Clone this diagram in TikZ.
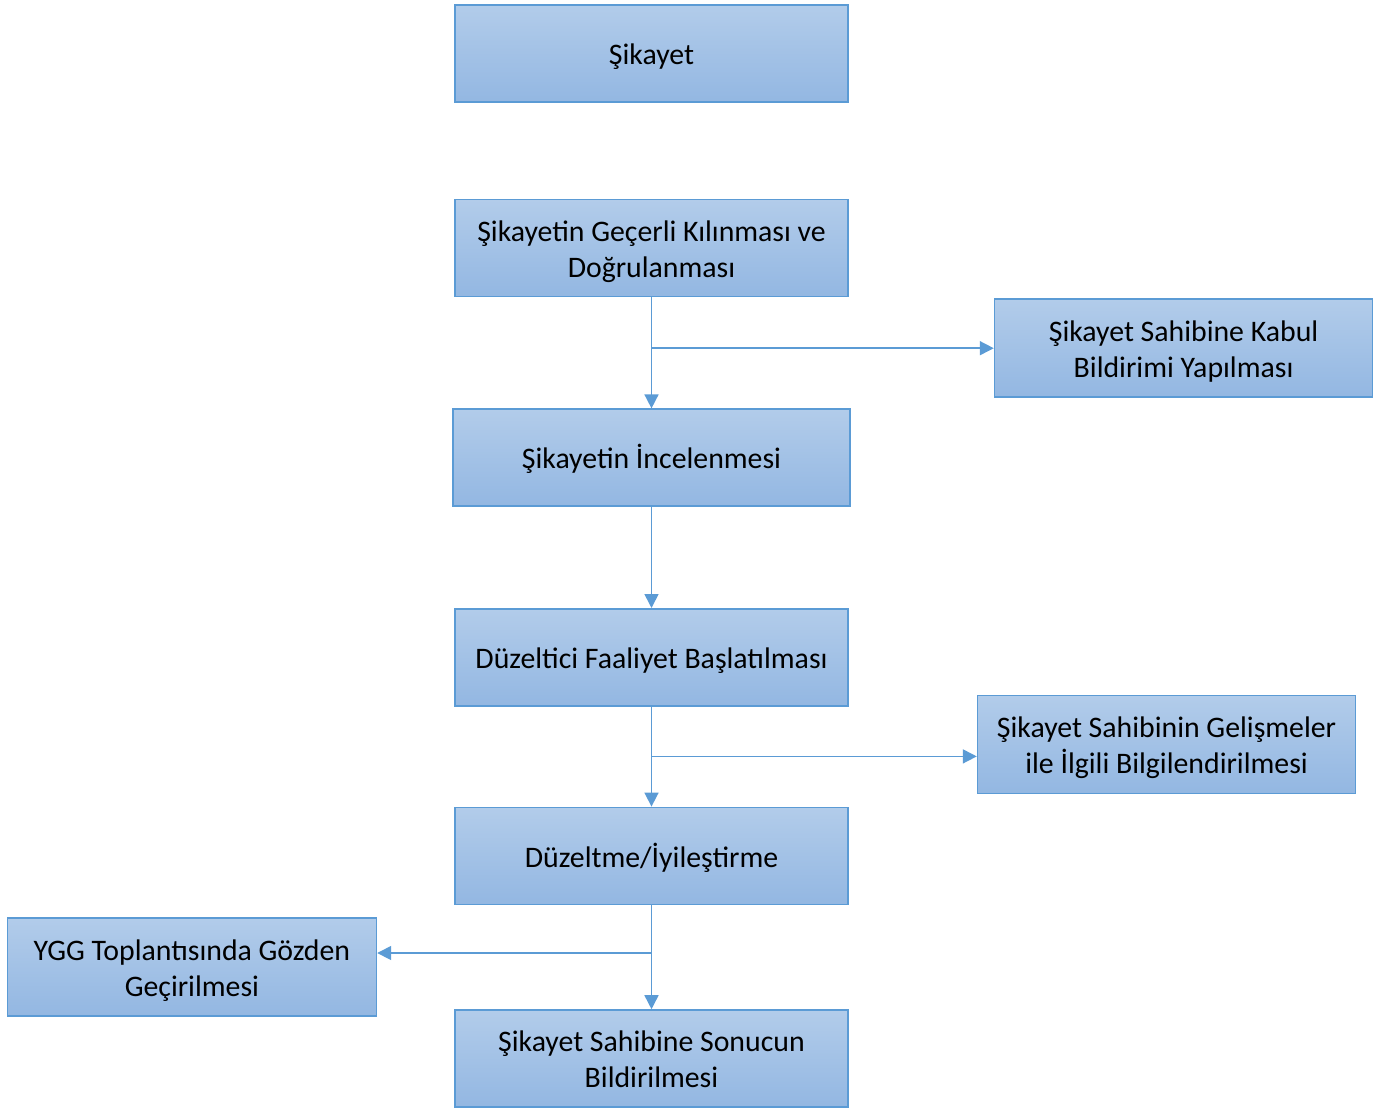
\documentclass[tikz,border=0pt]{standalone}
\usepackage{fontspec}
\setmainfont{Carlito}
\usetikzlibrary{
  positioning,
  arrows.meta
}
\definecolor{boxtop}{HTML}{B2CCEA}
\definecolor{boxbot}{HTML}{93B7E2}
\definecolor{boxline}{HTML}{5B9BD5}
\newcommand{\boxtext}[1]{\raisebox{-2pt}[\height][\depth]{\begin{tabular}{@{}c@{}}#1\end{tabular}}}
\tikzset{
  >={Triangle[length=7pt,width=7pt]},
  box/.style={draw=boxline, line width=0.8pt, top color=boxtop, bottom color=boxbot,
    minimum width=196.5pt, minimum height=48.5pt,
    font=\fontsize{14.9}{18}\selectfont, inner sep=0pt},
  sidebox/.style={box, minimum width=189pt, minimum height=49pt},
  flow/.style={->, draw=boxline, line width=0.8pt}
}
\begin{document}
\begin{tikzpicture}
    \useasboundingbox (0,0) rectangle (696pt,-554.5pt);
    \node[box] (sik) at (325.75pt,-26.75pt) {\boxtext{Şikayet}};
    \node[box, below=48pt of sik] (gec) {\boxtext{Şikayetin Geçerli Kılınması ve\\Doğrulanması}};
    \node[box, below=55.5pt of gec, minimum width=198.5pt] (inc) {\boxtext{Şikayetin İncelenmesi}};
    \node[box, below=50.5pt of inc] (duz) {\boxtext{Düzeltici Faaliyet Başlatılması}};
    \node[box, below=50pt of duz] (iyi) {\boxtext{Düzeltme/İyileştirme}};
    \node[box, below=52pt of iyi] (son) {\boxtext{Şikayet Sahibine Sonucun\\Bildirilmesi}};
    \node[sidebox, below right=0.5pt and 72.5pt of gec.south east] (kabul) {\boxtext{Şikayet Sahibine Kabul\\Bildirimi Yapılması}};
    \node[sidebox, right=64pt of duz.south east, anchor=north west, yshift=6pt] (bilgi) {\boxtext{Şikayet Sahibinin Gelişmeler\\ile İlgili Bilgilendirilmesi}};
    \node[sidebox, minimum width=184.5pt, below left=6pt and 38.5pt of iyi.south west] (ygg) {\boxtext{YGG Toplantısında Gözden\\Geçirilmesi}};
    % connectors
    \coordinate (j1) at (gec.south |- kabul.west);
    \coordinate (k2) at ([yshift=-6pt]bilgi.west);
    \coordinate (j2) at (duz.south |- k2);
    \coordinate (k3) at ([yshift=7pt]ygg.east);
    \coordinate (j3) at (iyi.south |- k3);
    \draw[flow] (gec) -- (inc);
    \draw[flow] (j1) -- (kabul.west);
    \draw[flow] (inc) -- (duz);
    \draw[flow] (duz) -- (iyi);
    \draw[flow] (j2) -- (k2);
    \draw[flow] (iyi) -- (son);
    \draw[flow] (j3) -- (k3);
  \end{tikzpicture}
\end{document}
